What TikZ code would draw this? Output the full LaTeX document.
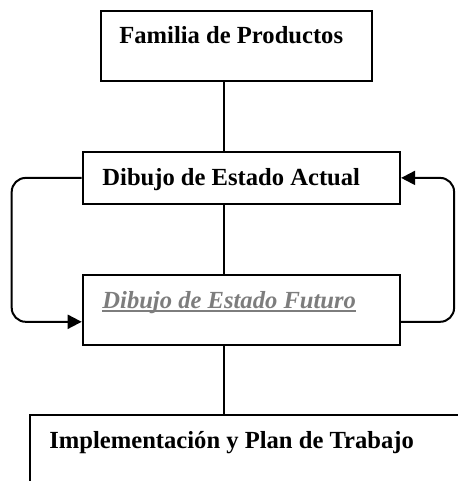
\documentclass[tikz,border=0pt]{standalone}
\usepackage{fontspec}
\setmainfont{Liberation Serif}
\usetikzlibrary{arrows.meta}
\definecolor{futgray}{RGB}{125,125,125}
\tikzset{
  font={\fontsize{12.3pt}{14}\selectfont\bfseries}}

\begin{document}
\begin{tikzpicture}[x=0.5pt,y=-0.5pt]
\tikzstyle{box}=[draw=black, line width=1pt, inner sep=0pt]
\tikzstyle{txt}=[inner sep=0pt, anchor=base west]
\tikzstyle{link}=[black, line width=1pt]
\tikzstyle{loopline}=[link, rounded corners=7pt, -{Triangle[length=7pt,width=7pt]}]
\clip (0,0) rectangle (458,481);
\coordinate (spine) at (224,0);
% boxes
\node [box, minimum width=135.5pt, minimum height=35pt] (fam) at (236.2,46) {};
\node [box, minimum width=158.7pt, minimum height=26.2pt] (act) at (241.4,177.9) {};
\node [box, minimum width=158.7pt, minimum height=35pt] (fut) at (241.4,310) {};
\node [box, minimum width=235pt, minimum height=52.5pt] (impl) at (265,467.5) {};
% texts
\node [txt] (famt) at (119,44) {Familia de Productos};
\node [txt] (actt) at (102,185) {Dibujo de Estado Actual};
\node [txt, text=futgray, font={\fontsize{12.3pt}{14}\selectfont\bfseries\itshape}] (futt) at (102,308) {Dibujo de Estado Futuro};
\draw [futgray, line width=1pt] ([yshift=-1.6pt]futt.base west) -- ([yshift=-1.6pt]futt.base east);
\node [txt] (implt) at (49,448) {Implementación y Plan de Trabajo};
% links
\draw [link] (fam.south -| spine) -- (act.north -| spine);
\draw [link] (act.south -| spine) -- (fut.north -| spine);
\draw [link] (fut.south -| spine) -- (impl.north -| spine);
\draw [loopline] (act.west) -- ++(-70,0) |- ([yshift=-5.9pt]fut.west);
\draw [loopline] ([yshift=-5.9pt]fut.east) -- ++(53,0) |- (act.east);
\end{tikzpicture}
\end{document}
